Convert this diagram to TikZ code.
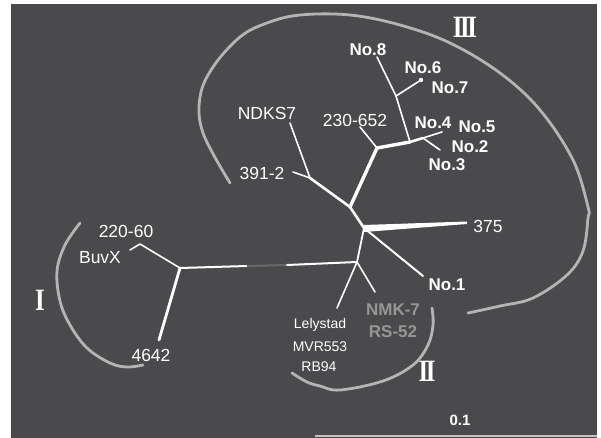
\documentclass[tikz,border=0pt]{standalone}
\usepackage{fontspec}
\setmainfont{Liberation Sans}
\newfontfamily\romfont{Liberation Serif}
\definecolor{bg}{RGB}{74,74,76}
\definecolor{arcgray}{RGB}{180,180,180}
\definecolor{dimtext}{RGB}{150,150,150}
\definecolor{darkseg}{RGB}{105,105,105}
\begin{document}
\begin{tikzpicture}[x=1pt,y=-1pt,
  br/.style={draw=white, line width=1.6pt, line cap=round, line join=round},
  thk/.style={br, line width=3.4pt},
  arcline/.style={draw=arcgray, line width=2.8pt, line cap=round},
  lab/.style={text=white, font=\fontsize{17.5}{17.5}\selectfont, inner sep=0pt},
  nolab/.style={lab, font=\bfseries\fontsize{17}{17}\selectfont},
  smlab/.style={lab, font=\fontsize{14}{14}\selectfont},
  dimlab/.style={lab, text=dimtext, font=\bfseries\fontsize{17}{17}\selectfont},
  romlab/.style={text=white, inner sep=0pt, font=\romfont\bfseries\fontsize{31}{31}\selectfont}]
\useasboundingbox (0,0) rectangle (601,438);
\fill[white] (0,0) rectangle (601,438);
\fill[bg] (11,4) rectangle (597,438);
% group arcs
\draw[arcline] plot[smooth, tension=0.6] coordinates {(230,183) (203,133) (200,97) (213,67) (240,37) (267,23) (300,15) (350,15) (400,25) (450,43) (500,73) (540,110) (573,160) (588,207) (588,218) (583,251) (567,275) (533,298) (500,306) (468,313)};
\draw[arcline] plot[smooth, tension=0.6] coordinates {(80,223) (65,245) (57,271) (60,301) (70,325) (87,348) (110,363) (127,367) (143,365)};
\draw[arcline] plot[smooth, tension=0.6] coordinates {(432,308) (433,325) (428,345) (413,365) (383,381) (340,390) (320,386) (307,382) (292,373)};
% tree coordinates
\coordinate (jI) at (180,268);
\coordinate (bBuv) at (140,244);
\coordinate (lBuv) at (130,250);
\coordinate (l4642) at (159,340);
\coordinate (d1) at (247,266);
\coordinate (d2) at (287,265);
\coordinate (jII) at (357,262);
\coordinate (lLely) at (337,308);
\coordinate (lNMK) at (375,292);
\coordinate (jA) at (364,228);
\coordinate (l375) at (467,223);
\coordinate (lNo1) at (423,276);
\coordinate (jB) at (350,207);
\coordinate (jC) at (310,178);
\coordinate (l391) at (293,172);
\coordinate (lNDKS) at (290,123);
\coordinate (jD) at (377,148);
\coordinate (l230) at (360,127);
\coordinate (jE) at (410,142);
\coordinate (jF) at (396,96);
\coordinate (lNo8) at (377,57);
\coordinate (lNo67) at (421,80);
\coordinate (jG) at (423,138);
\coordinate (lNo5) at (442,132);
\coordinate (lNo2) at (440,150);
% branches
\draw[br] (lBuv) -- (bBuv) -- (jI);
\draw[br, line width=2.8pt] (jI) -- (l4642);
\draw[br, line width=2pt] (jI) -- (d1);
\draw[draw=darkseg, line width=2pt] (d1) -- (d2);
\draw[br, line width=2pt] (d2) -- (jII);
\draw[br] (jII) -- (lLely);
\draw[br] (jII) -- (lNMK);
\draw[br, line width=1.8pt] (jII) -- (jA);
\fill[white] ([yshift=3pt]jA) -- ([yshift=1.5pt]l375) -- ([yshift=-1pt]l375) -- ([yshift=-4pt]jA) -- cycle;
\draw[br, line width=2pt] (jA) -- (lNo1);
\draw[br, line width=2.6pt] (jA) -- (jB);
\draw[br, line width=2.6pt] (jB) -- (jC);
\draw[br] (jC) -- (l391);
\draw[br] (jC) -- (lNDKS);
\draw[thk] (jB) -- (jD);
\draw[br] (jD) -- (l230);
\draw[thk] (jD) -- (jE);
\draw[br, line width=2.6pt] (jE) -- (jG);
\draw[br] (jE) -- (jF) -- (lNo8);
\draw[br] (jF) -- (lNo67);
\fill[white] (lNo67) circle (2.2pt);
\draw[br] (jG) -- (lNo5);
\draw[br] (jG) -- (lNo2);
% labels
\node[lab] (t22060) at (126,231) {220-60};
\node[lab] (tBuv) at (100,258) {BuvX};
\node[lab] (t4642) at (151,355) {4642};
\node[lab] (tNDKS) at (267,113) {NDKS7};
\node[lab] (t391) at (262,173) {391-2};
\node[lab] (t230) at (355,120) {230-652};
\node[lab] (t375) at (488,226) {375};
\node[nolab] (tNo1) at (447,285) {No.1};
\node[nolab] (tNo8) at (368,50) {No.8};
\node[nolab] (tNo6) at (423,68) {No.6};
\node[nolab] (tNo7) at (450,88) {No.7};
\node[nolab] (tNo4) at (433,123) {No.4};
\node[nolab] (tNo5) at (477,127) {No.5};
\node[nolab] (tNo2) at (470,147) {No.2};
\node[nolab] (tNo3) at (447,165) {No.3};
\node[smlab] (tLely) at (320,325) {Lelystad};
\node[smlab] (tMVR) at (320,347) {MVR553};
\node[smlab] (tRB) at (319,367) {RB94};
\node[dimlab] (tNMK) at (393,310) {NMK-7};
\node[dimlab] (tRS) at (393,332) {RS-52};
\node[romlab, xscale=0.8] (rI) at (40,300) {I};
\node[romlab, xscale=0.8] (rII) at (427,371) {I\kern-3pt I};
\node[romlab, xscale=0.8] (rIII) at (465,27) {I\kern-3pt I\kern-3pt I};
\node[text=white, inner sep=0pt, font=\bfseries\fontsize{15}{15}\selectfont] (tscale) at (460,420) {0.1};
\coordinate (s1) at (315,436);
\coordinate (s2) at (597,436);
\draw[draw=arcgray!80!white, line width=2.4pt] (s1) -- (s2);
\end{tikzpicture}
\end{document}
